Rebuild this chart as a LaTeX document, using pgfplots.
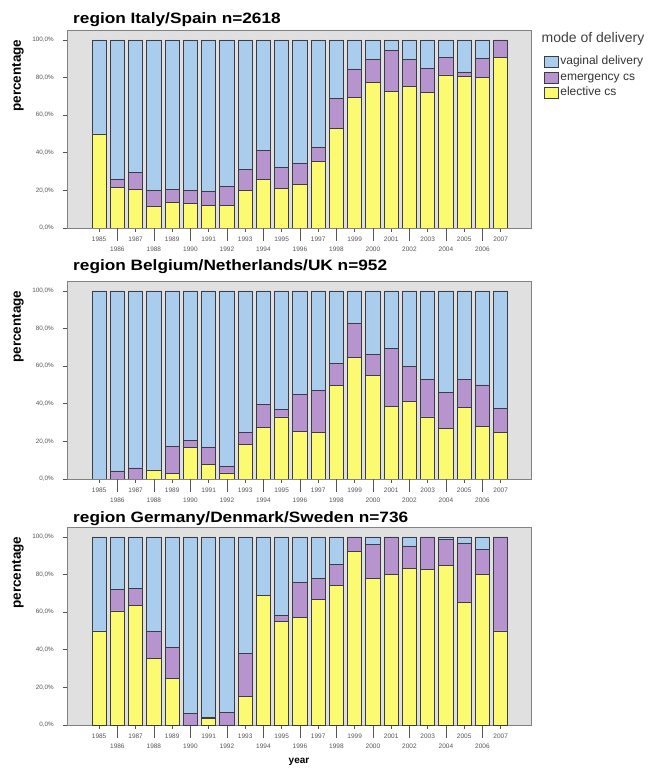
\documentclass[border=0pt]{standalone}
\usepackage{pgfplots}
\pgfplotsset{compat=1.18}
\usepackage{pgfplotstable}
\usepackage{fontspec}
\setmainfont{Liberation Sans}
\usepackage{graphicx}

\definecolor{vag}{RGB}{170,205,238}
\definecolor{emg}{RGB}{184,148,206}
\definecolor{ele}{RGB}{252,250,112}
\definecolor{bg}{RGB}{224,224,224}
\definecolor{framec}{RGB}{130,130,130}
\definecolor{tickc}{RGB}{85,85,85}
\definecolor{edgec}{RGB}{60,60,70}

\pgfplotstableread{
year el em vag
1985 50.0 0.0 50.0
1986 21.5 4.5 74.0
1987 20.7 8.8 70.5
1988 11.4 8.4 80.2
1989 13.4 7.0 79.6
1990 13.0 7.2 79.8
1991 11.8 7.5 80.7
1992 11.8 10.3 77.9
1993 20.0 11.2 68.8
1994 25.9 15.5 58.6
1995 21.1 11.0 67.9
1996 23.0 11.5 65.5
1997 35.2 7.5 57.3
1998 53.0 16.1 30.9
1999 69.5 15.1 15.4
2000 77.5 12.0 10.5
2001 72.7 21.8 5.5
2002 75.4 14.1 10.5
2003 72.0 13.0 15.0
2004 81.4 9.5 9.1
2005 80.4 2.6 17.0
2006 80.0 10.0 10.0
2007 90.7 9.3 0.0
}\tabA

\pgfplotstableread{
year el em vag
1985 0.0 0.0 100.0
1986 0.0 4.3 95.7
1987 0.0 5.9 94.1
1988 4.8 0.0 95.2
1989 3.0 14.1 82.9
1990 17.0 3.5 79.5
1991 7.9 8.7 83.4
1992 3.2 3.6 93.2
1993 18.4 6.4 75.2
1994 27.3 12.5 60.2
1995 33.0 3.8 63.2
1996 25.5 19.7 54.8
1997 24.8 22.3 52.9
1998 49.8 11.8 38.4
1999 64.6 18.1 17.3
2000 55.2 11.2 33.6
2001 38.4 31.1 30.5
2002 41.1 18.7 40.2
2003 33.0 19.9 47.1
2004 27.0 18.9 54.1
2005 37.9 15.0 47.1
2006 27.9 22.1 50.0
2007 24.8 12.7 62.5
}\tabB

\pgfplotstableread{
year el em vag
1985 50.0 0.0 50.0
1986 60.7 11.6 27.7
1987 63.4 9.4 27.2
1988 35.3 14.6 50.1
1989 24.9 16.5 58.6
1990 0.0 6.2 93.8
1991 3.6 0.5 95.9
1992 0.0 6.7 93.3
1993 15.1 23.1 61.8
1994 69.1 0.0 30.9
1995 55.1 3.3 41.6
1996 57.4 18.4 24.2
1997 66.6 11.2 22.2
1998 74.1 11.2 14.7
1999 92.5 7.5 0.0
2000 78.0 18.1 3.9
2001 80.1 19.9 0.0
2002 83.3 11.9 4.8
2003 82.9 17.1 0.0
2004 84.9 13.9 1.2
2005 65.4 31.4 3.2
2006 79.9 13.5 6.6
2007 50.0 50.0 0.0
}\tabC

\pgfplotsset{
  panel/.style={
    anchor=south west, scale only axis,
    width=464pt, height=198pt,
    xmin=1983.24, xmax=2008.66, ymin=0, ymax=105.3,
    ybar stacked, bar width=0.78,
    axis background/.style={fill=bg},
    axis line style={framec, line width=0.8pt},
    tick align=outside,
    xtick pos=lower, ytick pos=left,
    major tick length=4pt,
    tick style={tickc, line width=0.6pt},
    ytick={0,20,40,60,80,100},
    yticklabels={{0,0\%},{20,0\%},{40,0\%},{60,0\%},{80,0\%},{100,0\%}},
    yticklabel style={font=\fontsize{6.3}{7}\selectfont, text=tickc, anchor=east, inner sep=0pt, xshift=-9pt},
    xtick={1985,1987,1989,1991,1993,1995,1997,1999,2001,2003,2005,2007},
    xticklabels={1985,1987,1989,1991,1993,1995,1997,1999,2001,2003,2005,2007},
    xticklabel style={font=\fontsize{6.5}{7}\selectfont, text=tickc, anchor=north, inner sep=0pt, yshift=-4.5pt},
    extra x ticks={1986,1988,1990,1992,1994,1996,1998,2000,2002,2004,2006},
    extra x tick labels={1986,1988,1990,1992,1994,1996,1998,2000,2002,2004,2006},
    extra x tick style={major tick length=13pt, xticklabel style={yshift=-1pt}},
    ylabel={\fontsize{13.5}{15}\selectfont\bfseries percentage},
    ylabel style={at={(axis description cs:-0.1056,0.77)}, anchor=center},
    every axis plot/.append style={draw=edgec, line width=0.7pt},
  }
}

\begin{document}
\begin{tikzpicture}
\path[use as bounding box] (0pt,0pt) rectangle (652pt,768pt);

% Panel 1
\begin{axis}[panel, at={(67pt,540pt)},
  reverse legend,
  legend cell align=left,
  legend style={at={(axis description cs:1.028,0.879)}, anchor=north west,
    draw=none, fill=none, inner sep=0pt, row sep=0pt,
    font=\fontsize{12}{13}\selectfont, text=black!80,
    nodes={inner xsep=2pt, inner ysep=1.75pt, text height=9pt, text depth=3pt}},
  legend image code/.code={\draw[#1, line width=0.7pt] (0pt,-5.5pt) rectangle (13.5pt,5.5pt);},
]
\addplot[fill=ele] table[x=year,y=el]{\tabA};
\addplot[fill=emg] table[x=year,y=em]{\tabA};
\addplot[fill=vag] table[x=year,y=vag]{\tabA};
\legend{elective cs, emergency cs, vaginal delivery}
\end{axis}

% Panel 2
\begin{axis}[panel, at={(67pt,289pt)}]
\addplot[fill=ele] table[x=year,y=el]{\tabB};
\addplot[fill=emg] table[x=year,y=em]{\tabB};
\addplot[fill=vag] table[x=year,y=vag]{\tabB};
\end{axis}

% Panel 3
\begin{axis}[panel, at={(67pt,43pt)},
  xlabel={\fontsize{10}{12}\selectfont\bfseries year},
  xlabel style={at={(axis description cs:0.5,-0.187)}, anchor=center},
]
\addplot[fill=ele] table[x=year,y=el]{\tabC};
\addplot[fill=emg] table[x=year,y=em]{\tabC};
\addplot[fill=vag] table[x=year,y=vag]{\tabC};
\end{axis}

% Titles
\node[anchor=base west, inner sep=0pt] at (73pt,744pt) {\scalebox{1.15}[1]{\fontsize{15}{17}\selectfont\bfseries region Italy/Spain n=2618}};
\node[anchor=base west, inner sep=0pt] at (73pt,497pt) {\scalebox{1.15}[1]{\fontsize{15}{17}\selectfont\bfseries region Belgium/Netherlands/UK n=952}};
\node[anchor=base west, inner sep=0pt] at (73pt,245pt) {\scalebox{1.15}[1]{\fontsize{15}{17}\selectfont\bfseries region Germany/Denmark/Sweden n=736}};
\node[anchor=base west, inner sep=0pt, text=black!75] at (541.5pt,725pt) {\fontsize{14}{16}\selectfont mode of delivery};
\end{tikzpicture}
\end{document}
